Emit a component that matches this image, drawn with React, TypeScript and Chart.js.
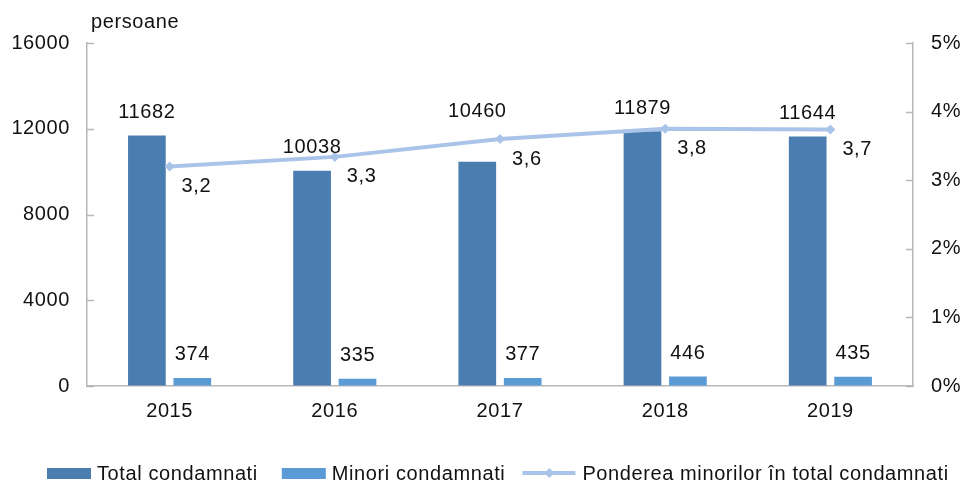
import React, { useEffect, useRef } from 'react';
import { Chart, registerables } from 'chart.js';

Chart.register(...registerables);

const years = ['2015', '2016', '2017', '2018', '2019'];
const totalValues = [11682, 10038, 10460, 11879, 11644];
const minorValues = [374, 335, 377, 446, 435];
const shareValues = [3.2, 3.34, 3.6, 3.75, 3.74];
const shareLabels = ['3,2', '3,3', '3,6', '3,8', '3,7'];
const seriesNames = ['Total condamnati', 'Minori condamnati', 'Ponderea minorilor în total condamnati'];
const unitLabel = 'persoane';
const leftMax = 16000;
const leftStep = 4000;
const rightMax = 5;
const rightStep = 1;

const DARK = '#4a7eb0';
const LIGHT = '#5b9bd5';
const LINE = '#a9c4e8';
const AXIS = '#b8b8b8';
const TEXT = '#111111';
const FONT_FAMILY = '"Liberation Sans", Arial, sans-serif';
const FONT_SIZE = 20;
const SPACING = '0.6px';

export default function App() {
  const ref = useRef<HTMLCanvasElement | null>(null);

  useEffect(() => {
    if (!ref.current) return;
    const font = `${FONT_SIZE}px ${FONT_FAMILY}`;

    const spacingPlugin = {
      id: 'spacing',
      beforeDraw(chart: any) {
        chart.ctx.letterSpacing = SPACING;
      },
    };

    const overlayPlugin = {
      id: 'overlay',
      afterDatasetsDraw(chart: any) {
        const ctx = chart.ctx;
        const lm = chart.getDatasetMeta(2);
        ctx.save();
        ctx.letterSpacing = SPACING;
        ctx.font = font;
        ctx.fillStyle = TEXT;
        ctx.textAlign = 'center';
        ctx.textBaseline = 'middle';
        [0, 1].forEach((di) => {
          const meta = chart.getDatasetMeta(di);
          const vals = di === 0 ? totalValues : minorValues;
          meta.data.forEach((el: any, i: number) => {
            let y = el.y - 23;
            const lineY = lm.data[i].y;
            if (Math.abs(y - lineY) < 8) y = lineY - 28;
            ctx.fillText(String(vals[i]), el.x, y);
          });
        });
        ctx.textAlign = 'left';
        lm.data.forEach((el: any, i: number) => {
          ctx.fillText(shareLabels[i], el.x + 12, el.y + 20);
        });
        ctx.restore();
      },
      afterDraw(chart: any) {
        const ctx = chart.ctx;
        const area = chart.chartArea;
        ctx.save();
        ctx.letterSpacing = SPACING;
        ctx.strokeStyle = AXIS;
        ctx.lineWidth = 1.5;
        const yl = chart.scales.y;
        yl.ticks.forEach((t: any) => {
          const py = Math.round(yl.getPixelForValue(t.value)) + 0.5;
          ctx.beginPath();
          ctx.moveTo(area.left, py);
          ctx.lineTo(area.left + 7, py);
          ctx.stroke();
        });
        const yr = chart.scales.y1;
        yr.ticks.forEach((t: any) => {
          const py = Math.round(yr.getPixelForValue(t.value)) + 0.5;
          ctx.beginPath();
          ctx.moveTo(area.right - 7, py);
          ctx.lineTo(area.right, py);
          ctx.stroke();
        });
        ctx.font = font;
        ctx.fillStyle = TEXT;
        ctx.textAlign = 'left';
        ctx.textBaseline = 'alphabetic';
        ctx.fillText(unitLabel, 91, 28);
        // legend
        let x = 47;
        const cy = 473;
        const baseline = 480;
        const colors = [DARK, LIGHT, LINE];
        seriesNames.forEach((name, i) => {
          if (i < 2) {
            ctx.fillStyle = colors[i];
            ctx.fillRect(x, 468, 44, 11);
            x += 50;
          } else {
            x -= 7;
            ctx.strokeStyle = LINE;
            ctx.lineWidth = 4;
            ctx.beginPath();
            ctx.moveTo(x, cy);
            ctx.lineTo(x + 53, cy);
            ctx.stroke();
            ctx.fillStyle = LINE;
            ctx.beginPath();
            const mx = x + 27;
            ctx.moveTo(mx, cy - 5);
            ctx.lineTo(mx + 5, cy);
            ctx.lineTo(mx, cy + 5);
            ctx.lineTo(mx - 5, cy);
            ctx.closePath();
            ctx.fill();
            x += 60;
          }
          ctx.fillStyle = TEXT;
          ctx.textBaseline = 'alphabetic';
          ctx.fillText(name, x, baseline);
          x += ctx.measureText(name).width + 24;
        });
        ctx.restore();
      },
    };

    const tickFont = { family: FONT_FAMILY, size: FONT_SIZE };

    const chart = new Chart(ref.current, {
      type: 'bar',
      data: {
        labels: years,
        datasets: [
          {
            type: 'bar',
            label: seriesNames[0],
            data: totalValues,
            backgroundColor: DARK,
            yAxisID: 'y',
            order: 1,
            categoryPercentage: 0.55,
            barPercentage: 0.83,
          },
          {
            type: 'bar',
            label: seriesNames[1],
            data: minorValues,
            backgroundColor: LIGHT,
            yAxisID: 'y',
            order: 1,
            categoryPercentage: 0.55,
            barPercentage: 0.83,
          },
          {
            type: 'line',
            label: seriesNames[2],
            data: shareValues,
            borderColor: LINE,
            backgroundColor: LINE,
            borderWidth: 4,
            pointStyle: 'rectRot',
            pointRadius: 5,
            pointBackgroundColor: LINE,
            pointBorderColor: LINE,
            pointBorderWidth: 0,
            yAxisID: 'y1',
            order: 0,
          } as any,
        ],
      },
      options: {
        animation: false,
        responsive: true,
        maintainAspectRatio: false,
        layout: { padding: { top: 43, left: 0, right: 0, bottom: 0 } },
        plugins: {
          legend: { display: false },
          tooltip: { enabled: false },
        },
        scales: {
          x: {
            offset: true,
            grid: { drawOnChartArea: false, drawTicks: false },
            border: { display: true, color: AXIS, width: 1.5 },
            ticks: { color: TEXT, font: tickFont, padding: 13 },
            afterFit: (s: any) => { s.height = 97; },
          },
          y: {
            position: 'left',
            min: 0,
            max: leftMax,
            grid: { drawOnChartArea: false, drawTicks: false },
            border: { display: true, color: AXIS, width: 1.5 },
            ticks: {
              stepSize: leftStep,
              color: TEXT,
              font: tickFont,
              padding: 17,
              callback: (v: any) => String(v),
            },
            afterFit: (s: any) => { s.width = 87; },
          },
          y1: {
            position: 'right',
            min: 0,
            max: rightMax,
            grid: { drawOnChartArea: false, drawTicks: false },
            border: { display: true, color: AXIS, width: 1.5 },
            ticks: {
              stepSize: rightStep,
              color: TEXT,
              font: tickFont,
              padding: 18,
              callback: (v: any) => `${v}%`,
            },
            afterFit: (s: any) => { s.width = 48; },
          },
        },
      },
      plugins: [spacingPlugin, overlayPlugin],
    } as any);

    return () => chart.destroy();
  }, []);

  return (
    <div style={{ position: 'fixed', left: 0, top: 0, width: 961, height: 483, background: '#fff' }}>
      <canvas ref={ref} />
    </div>
  );
}
